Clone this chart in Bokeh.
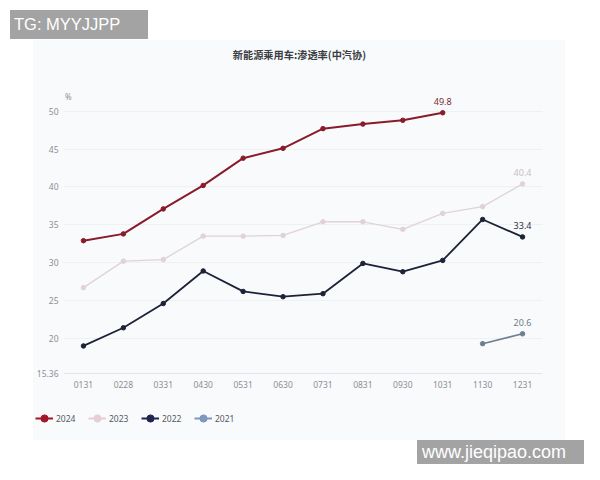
from bokeh.plotting import figure
from bokeh.models import (FactorRange, Range1d, FixedTicker, Legend, LegendItem,
                          Label, ColumnDataSource, CustomJSTickFormatter, Div, Spacer)
from bokeh.layouts import column, row
from bokeh.core.properties import value
from bokeh.embed import file_html
from bokeh.resources import INLINE

# ---------------- data ----------------
months = ["0131", "0228", "0331", "0430", "0531", "0630",
          "0731", "0831", "0930", "1031", "1130", "1231"]
y2024 = [32.9, 33.8, 37.1, 40.2, 43.8, 45.1, 47.7, 48.3, 48.8, 49.8]
y2023 = [26.7, 30.2, 30.4, 33.5, 33.5, 33.6, 35.4, 35.4, 34.4, 36.5, 37.4, 40.4]
y2022 = [19.0, 21.4, 24.6, 28.9, 26.2, 25.5, 25.9, 29.9, 28.8, 30.3, 35.7, 33.4]
months2021 = ["1130", "1231"]
y2021 = [19.3, 20.6]
series_names = ["2024", "2023", "2022", "2021"]
y_ticks = [15.36, 20, 25, 30, 35, 40, 45, 50]
title_text = "新能源乘用车:渗透率(中汽协)"
unit_text = "%"
watermark1 = "TG: MYYJJPP"
watermark2 = "www.jieqipao.com"

FONT = "Noto Sans"
CJK = "Noto Sans CJK SC"
PANEL = "#f8fafc"

# the value range reaches above the top tick so that the title fits inside the frame
y_lo, y_hi = 15.36, 58.68
p = figure(width=532, height=360, output_backend="svg", toolbar_location=None,
           title=None, x_range=FactorRange(*months), y_range=Range1d(y_lo, y_hi),
           min_border_left=30, min_border_right=23, min_border_top=5, min_border_bottom=27)
p.border_fill_color = PANEL
p.background_fill_color = PANEL
p.outline_line_color = None

# axes
p.xaxis.axis_line_color = "#e4e6ea"
p.xaxis.major_tick_line_color = None
p.xaxis.minor_tick_line_color = None
p.xaxis.major_tick_out = 0
p.xaxis.major_tick_in = 0
p.xaxis.major_label_text_color = "#8c9096"
p.xaxis.major_label_text_font = FONT
p.xaxis.major_label_text_font_size = "8.5px"
p.xaxis.major_label_standoff = 7
p.xgrid.grid_line_color = None

p.yaxis.ticker = FixedTicker(ticks=y_ticks)
p.yaxis.formatter = CustomJSTickFormatter(code="return (tick % 1) ? tick.toFixed(2) : tick.toFixed(0);")
p.yaxis.axis_line_color = None
p.yaxis.major_tick_line_color = None
p.yaxis.minor_tick_line_color = None
p.yaxis.major_tick_out = 0
p.yaxis.major_tick_in = 0
p.yaxis.major_label_text_color = "#8c9096"
p.yaxis.major_label_text_font = FONT
p.yaxis.major_label_text_font_size = "8.5px"
p.yaxis.major_label_standoff = 5
p.ygrid.grid_line_color = "#eef0f3"
p.ygrid.grid_line_width = 1

styles = {
    "2024": dict(line="#8a1b2b", marker="#a3172a", lw=2.0, lbl="#7a2a35"),
    "2023": dict(line="#e0d2d8", marker="#e6cdd6", lw=1.3, lbl="#c8bfc3"),
    "2022": dict(line="#1d2238", marker="#1f2550", lw=1.8, lbl="#2c3142"),
    "2021": dict(line="#6e7f90", marker="#7c98bf", lw=1.6, lbl="#737b84"),
}
xs = {"2024": months[:len(y2024)], "2023": months, "2022": months, "2021": months2021}
ys = {"2024": y2024, "2023": y2023, "2022": y2022, "2021": y2021}

# legend-only figure (the legend sits below the chart, in the same panel)
lg = figure(width=532, height=40, output_backend="svg", toolbar_location=None,
            x_axis_location=None, y_axis_location=None,
            x_range=Range1d(0, 1), y_range=Range1d(0, 1),
            min_border_left=0, min_border_right=0, min_border_top=0, min_border_bottom=0)
lg.border_fill_color = PANEL
lg.background_fill_color = PANEL
lg.outline_line_color = None
lg.xgrid.visible = False
lg.ygrid.visible = False

items = []
for name in series_names:
    st = styles[name]
    src = ColumnDataSource(dict(x=xs[name], y=ys[name]))
    p.line("x", "y", source=src, line_color=st["line"], line_width=st["lw"])
    p.scatter("x", "y", source=src, size=4.5, fill_color=st["line"], line_color=st["line"])
    # legend proxies: same series styling, placed off the legend strip's visible range
    off = ColumnDataSource(dict(x=[-5, -4], y=[-5, -5]))
    rl = lg.line("x", "y", source=off, line_color=st["marker"], line_width=2)
    rm = lg.scatter("x", "y", source=off, size=8, fill_color=st["marker"], line_color=st["marker"])
    items.append(LegendItem(label=name, renderers=[rl, rm]))
    lsrc = ColumnDataSource(dict(x=[xs[name][-1]], y=[ys[name][-1]], t=["%.1f" % ys[name][-1]]))
    p.text("x", "y", text="t", source=lsrc, text_align="center", text_baseline="middle",
           y_offset=-11, text_font=value(FONT), text_font_size="9px", text_color=st["lbl"])

legend = Legend(items=items, orientation="horizontal", location=(2, 12),
                background_fill_alpha=0, border_line_color=None, padding=0, margin=0,
                spacing=12, glyph_width=18, glyph_height=20, label_standoff=3,
                label_text_font=FONT, label_text_font_size="8.5px", label_text_color="#555a60")
lg.add_layout(legend, "center")

# title and unit label (placed in the frame's own coordinates)
p.add_layout(Label(x=5.91, y=57.49, text=title_text, text_align="center", text_baseline="middle",
                   text_font=CJK, text_font_size="10.2px", text_font_style="bold", text_color="#3a3d42"))
p.add_layout(Label(x=0.12, y=51.94, text=unit_text, text_align="center", text_baseline="middle",
                   text_font=FONT, text_font_size="8px", text_color="#8c9096"))

wm_style = {"background-color": "#a3a3a3", "color": "white", "font-family": "Liberation Sans, Arial, sans-serif",
            "white-space": "nowrap", "overflow": "hidden", "box-sizing": "border-box"}
wm1 = Div(text=watermark1, width=138, height=29, margin=0,
          styles=dict(wm_style, **{"font-size": "16.5px", "line-height": "29px", "padding-left": "4px"}))
wm2 = Div(text=watermark2, width=167, height=24, margin=0,
          styles=dict(wm_style, **{"font-size": "18px", "line-height": "24px", "padding-left": "5px"}))

top = column(Spacer(height=10, width=584, margin=0),
             row(Spacer(width=10, height=29, margin=0), wm1, margin=0),
             Spacer(height=1, width=584, margin=0), margin=0)
chart = column(p, row(lg, margin=0), margin=0, styles={"background-color": PANEL})
mid = row(Spacer(width=33, height=400, margin=0), chart, margin=0)
bot = row(Spacer(width=417, height=24, margin=0), wm2, margin=0)
page = column(top, mid, bot, margin=0, styles={"background-color": "white"})

open("out.html", "w").write(file_html(page, INLINE))
